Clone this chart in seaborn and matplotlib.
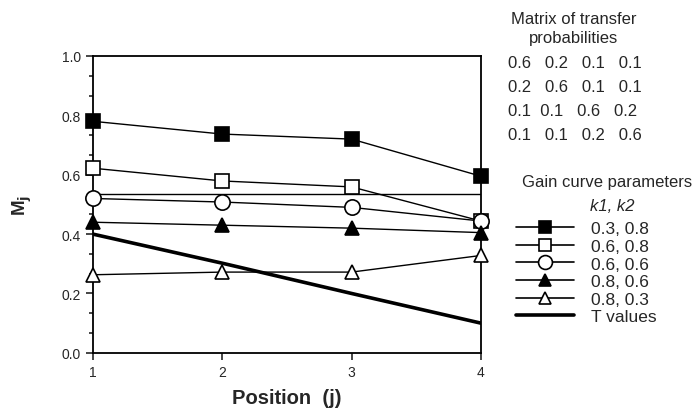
import pandas as pd
import matplotlib
matplotlib.use('Agg')
import matplotlib.pyplot as plt
import seaborn as sns
from matplotlib.lines import Line2D
from matplotlib.ticker import MultipleLocator

# Data
positions = [1, 2, 3, 4]
sq_filled = [0.78, 0.737, 0.72, 0.595]
sq_open = [0.622, 0.579, 0.559, 0.444]
circ_open = [0.52, 0.508, 0.49, 0.444]
tri_filled = [0.44, 0.43, 0.42, 0.405]
tri_open = [0.263, 0.272, 0.272, 0.328]
t_values = [0.40, 0.302, 0.20, 0.10]
ref_level = 0.535

series_labels = ['0.3, 0.8', '0.6, 0.8', '0.6, 0.6', '0.8, 0.6', '0.8, 0.3']
matrix_rows = ['0.6   0.2   0.1   0.1',
               '0.2   0.6   0.1   0.1',
               '0.1  0.1   0.6   0.2',
               '0.1   0.1   0.2   0.6']

sns.set_style('ticks')
plt.rcParams['font.family'] = ['Liberation Sans', 'DejaVu Sans']

fig = plt.figure(figsize=(6.93, 4.10), dpi=100)
ax = fig.add_axes([0.134, 0.137, 0.560, 0.724])

styles = [('s', 'black'), ('s', 'white'), ('o', 'white'), ('^', 'black'), ('^', 'white')]
all_series = [sq_filled, sq_open, circ_open, tri_filled, tri_open]

for vals, (mk, fc), lab in zip(all_series, styles, series_labels):
    df = pd.DataFrame({'Position': positions, 'M': vals})
    sns.lineplot(data=df, x='Position', y='M', ax=ax, color='black', lw=1.0,
                 marker=mk, markersize=10 if mk != 'o' else 11, markerfacecolor=fc,
                 markeredgecolor='black', markeredgewidth=1.2, clip_on=False, zorder=3)

df_t = pd.DataFrame({'Position': positions, 'T': t_values})
sns.lineplot(data=df_t, x='Position', y='T', ax=ax, color='black', lw=2.6, zorder=2)
ax.axhline(ref_level, color='black', lw=1.0, zorder=1)

ax.set_xlim(1, 4)
ax.set_ylim(0, 1)
ax.set_xticks(positions)
ax.set_yticks([0.0, 0.2, 0.4, 0.6, 0.8, 1.0])
ax.set_yticklabels(['0.0', '0.2', '0.4', '0.6', '0.8', '1.0'])
ax.yaxis.set_minor_locator(MultipleLocator(0.2 / 3))
ax.tick_params(axis='both', which='major', labelsize=10, length=5, width=1.2, direction='out')
ax.tick_params(axis='y', which='minor', length=3, width=1.2, direction='out')
for s in ax.spines.values():
    s.set_linewidth(1.3)
    s.set_color('black')

ax.set_xlabel('Position  (j)', fontsize=14.5, fontweight='bold', labelpad=7)
ax.set_ylabel('M$_\\mathbf{j}$', fontsize=13.5, fontweight='bold', labelpad=20)

# Matrix of transfer probabilities
fig.text(0.828, 0.952, 'Matrix of transfer', ha='center', va='center', fontsize=12)
fig.text(0.828, 0.907, 'probabilities', ha='center', va='center', fontsize=12)
for i, row in enumerate(matrix_rows):
    fig.text(0.733, 0.846 - i * 0.0585, row, ha='left', va='center', fontsize=12)

fig.text(0.753, 0.556, 'Gain curve parameters', ha='left', va='center', fontsize=12)
fig.text(0.852, 0.497, 'k1, k2', ha='left', va='center', fontsize=12, style='italic')

handles = []
for (mk, fc), lab in zip(styles, series_labels):
    handles.append(Line2D([0], [0], color='black', lw=1.2, marker=mk, markersize=9 if mk != 'o' else 10,
                          markerfacecolor=fc, markeredgecolor='black', markeredgewidth=1.2, label=lab))
handles.append(Line2D([0], [0], color='black', lw=2.6, label='T values'))
fig.legend(handles=handles, loc='upper left', bbox_to_anchor=(0.735, 0.475), frameon=False,
           fontsize=12.5, handlelength=3.3, handletextpad=1.0, labelspacing=0.14, borderaxespad=0)

fig.savefig('out.png', dpi=100, facecolor='white')
